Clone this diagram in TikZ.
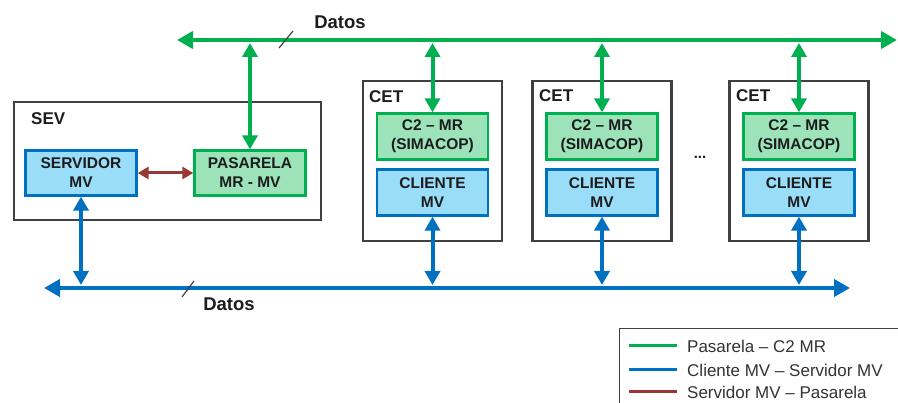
\documentclass[tikz,border=0pt]{standalone}
\usepackage{fontspec}
\setmainfont{Liberation Sans}
\usetikzlibrary{arrows.meta}
\definecolor{busgreen}{HTML}{00B050}
\definecolor{fillgreen}{HTML}{9DE3BA}
\definecolor{busblue}{HTML}{0070C0}
\definecolor{fillblue}{HTML}{99DDF8}
\definecolor{linkred}{HTML}{993735}
\definecolor{framegray}{HTML}{404040}
\definecolor{inktext}{HTML}{1C1C1C}
\tikzset{
  box/.style={draw, line width=2.3pt, minimum width=111pt, minimum height=45pt,
    inner sep=0pt, align=center, text=inktext,
    font=\bfseries\fontsize{15.5}{19}\selectfont},
  mrbox/.style={box, draw=busgreen, fill=fillgreen},
  mvbox/.style={box, draw=busblue, fill=fillblue},
  frame/.style={draw=framegray, line width=2.3pt, inner sep=0pt},
  tag/.style={font=\bfseries\fontsize{17}{20}\selectfont, anchor=west, inner sep=0pt,
    text=inktext},
  green bus/.style={draw=busgreen, line width=4.5pt,
    {Triangle[length=16pt,width=17pt]}-{Triangle[length=16pt,width=17pt]}},
  blue bus/.style={draw=busblue, line width=4.5pt,
    {Triangle[length=16pt,width=17pt]}-{Triangle[length=16pt,width=17pt]}},
  green link/.style={draw=busgreen, line width=4pt,
    {Triangle[length=14pt,width=15pt]}-{Triangle[length=14pt,width=15pt]}},
  blue link/.style={draw=busblue, line width=4pt,
    {Triangle[length=14pt,width=15pt]}-{Triangle[length=14pt,width=15pt]}},
  red link/.style={draw=linkred, line width=3pt,
    {Triangle[length=11pt,width=12pt]}-{Triangle[length=11pt,width=12pt]}},
  tick/.style={draw=framegray, line width=1.2pt},
  legend text/.style={font=\fontsize{17}{20}\selectfont, anchor=west, inner sep=0pt,
    text=framegray!80!black}
}
\begin{document}
\begin{tikzpicture}[x=1pt, y=-1pt]
  \clip (0,0) rectangle (898,403);
  \fill[white] (0,0) rectangle (898,403);

  % bus end points
  \coordinate (gL) at (177,40);
  \coordinate (gR) at (897,40);
  \coordinate (bL) at (44,288);
  \coordinate (bR) at (850,288);

  % SEV
  \node[frame, minimum width=307pt, minimum height=118pt] (sev) at (167.5,161) {};
  \node[tag] (sevlbl) at (31,119) {SEV};
  \node[mvbox] (serv) at (81,173) {SERVIDOR\\MV};
  \node[mrbox] (pas) at (250,173) {PASARELA\\MR - MV};

  % CET stations
  \foreach \cx/\nm in {432.5/a, 602/b, 799/c}{
    \node[frame, minimum width=139pt, minimum height=160pt] (cet\nm) at (\cx,161) {};
    \node[mrbox, minimum height=46pt] (c2\nm) at (\cx,136.5) {C2 -- MR\\(SIMACOP)};
    \node[mvbox, minimum height=46pt] (cli\nm) at (\cx,192.5) {CLIENTE\\MV};
  }
  \node[tag] (ceta lbl) at (369,97) {CET};
  \node[tag] (cetb lbl) at (539,96) {CET};
  \node[tag] (cetc lbl) at (736,96) {CET};
  \node[font=\bfseries\fontsize{15}{18}\selectfont, inner sep=0pt, text=inktext] (dots) at (700,157) {...};

  % data buses
  \draw[green bus] (gL) -- (gR);
  \draw[blue bus] (bL) -- (bR);
  \draw[tick] (279,48) -- (293,31);
  \draw[tick] (182,297) -- (194,281);
  \node[font=\bfseries\fontsize{18.5}{22}\selectfont, inner sep=0pt, text=inktext] (datosg) at (340,22) {Datos};
  \node[font=\bfseries\fontsize{18.5}{22}\selectfont, inner sep=0pt, text=inktext] (datosb) at (229,304) {Datos};

  % links to the green bus
  \draw[green link, shorten <=3pt] (pas.north |- gL) -- (pas.north);
  \foreach \nm in {a,b,c}{
    \draw[green link, shorten <=3pt] (c2\nm.north |- gL) -- (c2\nm.north);
  }

  % links to the blue bus
  \draw[blue link, shorten >=3pt] (serv.south) -- (serv.south |- bL);
  \foreach \nm in {a,b,c}{
    \draw[blue link, shorten >=3pt] (cli\nm.south) -- (cli\nm.south |- bL);
  }

  % server to gateway
  \draw[red link] (serv.east) -- (pas.west);

  % legend
  \node[draw=framegray, line width=1.3pt, anchor=north west, minimum width=300pt,
    minimum height=100pt, inner sep=0pt] (legend) at (619,328) {};
  \draw[busgreen, line width=3pt] (629,346) -- (677,346);
  \draw[busblue, line width=3pt] (629,370) -- (677,370);
  \draw[linkred, line width=3pt] (629,392) -- (677,392);
  \node[legend text] (lg1) at (687,346) {Pasarela -- C2 MR};
  \node[legend text] (lg2) at (687,370) {Cliente MV -- Servidor MV};
  \node[legend text] (lg3) at (687,392) {Servidor MV -- Pasarela};
\end{tikzpicture}
\end{document}
